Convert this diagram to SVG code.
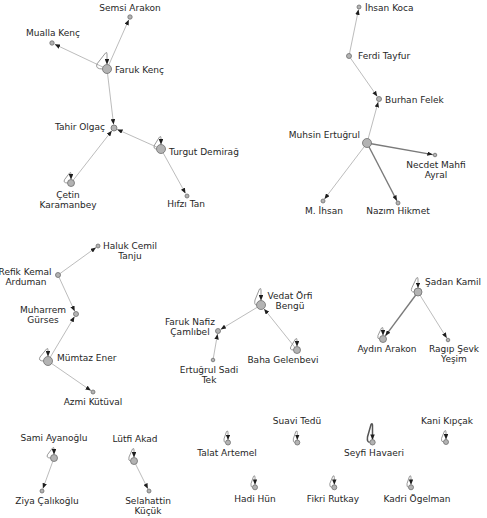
<svg xmlns="http://www.w3.org/2000/svg" width="487" height="518" viewBox="0 0 487 518">
<style>
.e{stroke:#b4b4b4;stroke-width:0.9;fill:none;marker-end:url(#arr)}
.ed{stroke:#7a7a7a;stroke-width:1.4;fill:none;marker-end:url(#arr)}
.l{stroke:#8c8c8c;stroke-width:0.9;fill:none;marker-end:url(#arr)}
.ld{stroke:#555;stroke-width:1.5;fill:none;marker-end:url(#arr)}
.n{fill:#b3b3b3;stroke:#6e6e6e;stroke-width:0.8}
text{font-family:"DejaVu Sans","Liberation Sans",sans-serif;font-size:9px;fill:#262626}
.m{text-anchor:middle}
.r{text-anchor:end}
</style>
<defs>
<marker id="arr" viewBox="0 0 6 5" refX="6" refY="2.5" markerWidth="5.5" markerHeight="4.5" markerUnits="userSpaceOnUse" orient="auto">
<path d="M0,0 L6,2.5 L0,5 z" fill="#1e1e1e"/>
</marker>
</defs>
<rect width="487" height="518" fill="#ffffff"/>
<g id="edges">
<line class="e" x1="107" y1="69" x2="128.8" y2="19.7"/>
<line class="e" x1="107" y1="69" x2="54.7" y2="44.3"/>
<line class="e" x1="107" y1="69" x2="113.6" y2="124.5"/>
<line class="e" x1="161" y1="149" x2="117.2" y2="129.4"/>
<line class="e" x1="161" y1="149" x2="185.5" y2="193.4"/>
<line class="e" x1="71" y1="183" x2="111.8" y2="130.8"/>
<line class="e" x1="349" y1="56" x2="358.5" y2="9.5"/>
<line class="e" x1="349" y1="56" x2="377.3" y2="96.5"/>
<line class="e" x1="367" y1="143" x2="378.2" y2="101.9"/>
<line class="ed" x1="367" y1="143" x2="432.7" y2="154.6"/>
<line class="e" x1="367" y1="143" x2="324.5" y2="199"/>
<line class="ed" x1="367" y1="143" x2="396.9" y2="200.8"/>
<line class="e" x1="58" y1="275" x2="96" y2="247.5"/>
<line class="e" x1="58" y1="275" x2="74.7" y2="311.3"/>
<line class="e" x1="48" y1="361" x2="74.5" y2="316.6"/>
<line class="e" x1="48" y1="361" x2="90.9" y2="390.6"/>
<line class="e" x1="261" y1="305" x2="220.6" y2="329.4"/>
<line class="e" x1="213" y1="360" x2="217.5" y2="334"/>
<line class="e" x1="297" y1="350" x2="264.1" y2="308.9"/>
<line class="ed" x1="418" y1="292" x2="385.4" y2="335.8"/>
<line class="e" x1="418" y1="292" x2="446.8" y2="338.1"/>
<line class="e" x1="54" y1="458" x2="42.9" y2="488.6"/>
<line class="e" x1="134" y1="461" x2="147.9" y2="488.8"/>
<path class="l" d="M102.5,69 Q95,69 97,63.9 L105.5,53 Q107,51.5 107,54 L107,64.5"/>
<path class="l" d="M156.5,149 Q153,149 154.5,145 L159.5,137 Q161,135.5 161,138 L161,144.5"/>
<path class="l" d="M67.5,183 Q63,183 64.5,179.7 L69.5,173 Q71,171.5 71,174 L71,179.5"/>
<path class="l" d="M43.5,361 Q38,361 40,357 L46.5,349 Q48,347.5 48,350 L48,356.5"/>
<path class="l" d="M256.5,305 Q254,305 255,300 L259.5,289 Q261,287.5 261,290 L261,300.5"/>
<path class="l" d="M293.5,350 Q289,350 291,346.4 L295.5,339 Q297,337.5 297,340 L297,346.5"/>
<path class="l" d="M414,292 Q410,292 412,287.5 L416.5,278 Q418,276.5 418,279 L418,288"/>
<path class="l" d="M379.5,339 Q377,339 378,335.4 L381.5,328 Q383,326.5 383,329 L383,335.5"/>
<path class="l" d="M50.5,458 Q46,458 47.5,454.7 L52.5,448 Q54,446.5 54,449 L54,454.5"/>
<path class="l" d="M130.5,461 Q128,461 129,457 L132.5,449 Q134,447.5 134,450 L134,457.5"/>
<path class="l" d="M225.5,442.5 Q223.5,442.5 224,438.9 L226.5,431.5 Q228,430 228,432.5 L228,440"/>
<path class="l" d="M294.8,442.5 Q292.8,442.5 293.3,438.9 L295.8,431.5 Q297.3,430 297.3,432.5 L297.3,440"/>
<path class="ld" d="M369.8,442.3 Q366.8,442.3 367.5,437 L371,424.5 Q372.5,422.5 372.5,425.5 L372.5,439.8"/>
<path class="l" d="M443.5,442 Q441,442 441.5,438.4 L444.5,431 Q446,429.5 446,432 L446,439.5"/>
<path class="l" d="M252.5,487.3 Q250.5,487.3 251,483.7 L253.5,476.3 Q255,474.8 255,477.3 L255,484.8"/>
<path class="l" d="M331.8,487.3 Q329.3,487.3 329.8,483.7 L332.8,476.3 Q334.3,474.8 334.3,477.3 L334.3,484.8"/>
<path class="l" d="M408.5,487.3 Q406.5,487.3 407,483.7 L409.5,476.3 Q411,474.8 411,477.3 L411,484.8"/>
</g>
<g id="n-semsi-arakon"><circle class="n" cx="130" cy="17" r="2.2"/><text class="m" x="130" y="11">Semsi Arakon</text></g>
<g id="n-mualla-kenc"><circle class="n" cx="52" cy="43" r="2.2"/><text class="m" x="53" y="36">Mualla Kenç</text></g>
<g id="n-faruk-kenc"><circle class="n" cx="107" cy="69" r="4.5"/><text x="115" y="73">Faruk Kenç</text></g>
<g id="n-tahir-olgac"><circle class="n" cx="114" cy="128" r="3"/><text class="r" x="105" y="130">Tahir Olgaç</text></g>
<g id="n-turgut-demirag"><circle class="n" cx="161" cy="149" r="4.5"/><text x="169" y="155">Turgut Demirağ</text></g>
<g id="n-cetin-karamanbey"><circle class="n" cx="71" cy="183" r="3.5"/><text class="m" x="68" y="198">Çetin</text><text class="m" x="68" y="208">Karamanbey</text></g>
<g id="n-hifzi-tan"><circle class="n" cx="187" cy="196" r="2"/><text class="m" x="186" y="207">Hıfzı Tan</text></g>
<g id="n-ihsan-koca"><circle class="n" cx="359" cy="7" r="2"/><text x="365" y="11">İhsan Koca</text></g>
<g id="n-ferdi-tayfur"><circle class="n" cx="349" cy="56" r="2.5"/><text x="358" y="59">Ferdi Tayfur</text></g>
<g id="n-burhan-felek"><circle class="n" cx="379" cy="99" r="2.5"/><text x="385" y="103">Burhan Felek</text></g>
<g id="n-muhsin-ertugrul"><circle class="n" cx="367" cy="143" r="4.5"/><text class="r" x="360" y="138">Muhsin Ertuğrul</text></g>
<g id="n-necdet-mahfi-ayral"><circle class="n" cx="435" cy="155" r="1.8"/><text class="m" x="436" y="168">Necdet Mahfi</text><text class="m" x="436" y="178">Ayral</text></g>
<g id="n-m-ihsan"><circle class="n" cx="323" cy="201" r="2"/><text class="m" x="324" y="214">M. İhsan</text></g>
<g id="n-nazim-hikmet"><circle class="n" cx="398" cy="203" r="2"/><text class="m" x="398" y="214">Nazım Hikmet</text></g>
<g id="n-haluk-cemil-tanju"><circle class="n" cx="98" cy="246" r="2"/><text class="m" x="130" y="249">Haluk Cemil</text><text class="m" x="130" y="259">Tanju</text></g>
<g id="n-refik-kemal-arduman"><circle class="n" cx="58" cy="275" r="2.5"/><text class="m" x="25" y="275">Refik Kemal</text><text class="m" x="26" y="285">Arduman</text></g>
<g id="n-muharrem-gurses"><circle class="n" cx="76" cy="314" r="2.5"/><text class="m" x="43" y="313">Muharrem</text><text class="m" x="43" y="323">Gürses</text></g>
<g id="n-mumtaz-ener"><circle class="n" cx="48" cy="361" r="4.5"/><text x="57" y="361">Mümtaz Ener</text></g>
<g id="n-azmi-kutuval"><circle class="n" cx="93" cy="392" r="2"/><text class="m" x="93" y="405">Azmi Kütüval</text></g>
<g id="n-vedat-orfi-bengu"><circle class="n" cx="261" cy="305" r="4.5"/><text class="m" x="290" y="299">Vedat Örfi</text><text class="m" x="290" y="309">Bengü</text></g>
<g id="n-faruk-nafiz-camlibel"><circle class="n" cx="218" cy="331" r="2.5"/><text class="m" x="190" y="325">Faruk Nafiz</text><text class="m" x="190" y="335">Çamlıbel</text></g>
<g id="n-ertugrul-sadi-tek"><circle class="n" cx="213" cy="360" r="1.8"/><text class="m" x="209" y="373">Ertuğrul Sadi</text><text class="m" x="209" y="383">Tek</text></g>
<g id="n-baha-gelenbevi"><circle class="n" cx="297" cy="350" r="3.5"/><text class="m" x="283" y="363">Baha Gelenbevi</text></g>
<g id="n-sadan-kamil"><circle class="n" cx="418" cy="292" r="4"/><text x="425" y="285">Şadan Kamil</text></g>
<g id="n-aydin-arakon"><circle class="n" cx="383" cy="339" r="3.5"/><text class="m" x="387" y="352">Aydın Arakon</text></g>
<g id="n-ragip-sevk-yesim"><circle class="n" cx="448" cy="340" r="1.8"/><text class="m" x="454" y="352">Ragıp Şevk</text><text class="m" x="454" y="362">Yeşim</text></g>
<g id="n-sami-ayanoglu"><circle class="n" cx="54" cy="458" r="3.5"/><text class="m" x="54" y="441">Sami Ayanoğlu</text></g>
<g id="n-ziya-calikoglu"><circle class="n" cx="42" cy="491" r="2"/><text class="m" x="47" y="504">Ziya Çalıkoğlu</text></g>
<g id="n-lutfi-akad"><circle class="n" cx="134" cy="461" r="3.5"/><text class="m" x="135" y="442">Lütfi Akad</text></g>
<g id="n-selahattin-kucuk"><circle class="n" cx="149" cy="491" r="2"/><text class="m" x="148" y="504">Selahattin</text><text class="m" x="148" y="514">Küçük</text></g>
<g id="n-talat-artemel"><circle class="n" cx="228" cy="442.5" r="2.5"/><text class="m" x="227" y="456">Talat Artemel</text></g>
<g id="n-suavi-tedu"><circle class="n" cx="297.3" cy="442.5" r="2.5"/><text class="m" x="297" y="424">Suavi Tedü</text></g>
<g id="n-seyfi-havaeri"><circle class="n" cx="372.5" cy="442.3" r="2.7"/><text class="m" x="374" y="456">Seyfi Havaeri</text></g>
<g id="n-kani-kipcak"><circle class="n" cx="446" cy="442" r="2.5"/><text class="m" x="447" y="424">Kani Kıpçak</text></g>
<g id="n-hadi-hun"><circle class="n" cx="255" cy="487.3" r="2.5"/><text class="m" x="255" y="502">Hadi Hün</text></g>
<g id="n-fikri-rutkay"><circle class="n" cx="334.3" cy="487.3" r="2.5"/><text class="m" x="333" y="502">Fikri Rutkay</text></g>
<g id="n-kadri-ogelman"><circle class="n" cx="411" cy="487.3" r="2.5"/><text class="m" x="417" y="502">Kadri Ögelman</text></g>
</svg>
